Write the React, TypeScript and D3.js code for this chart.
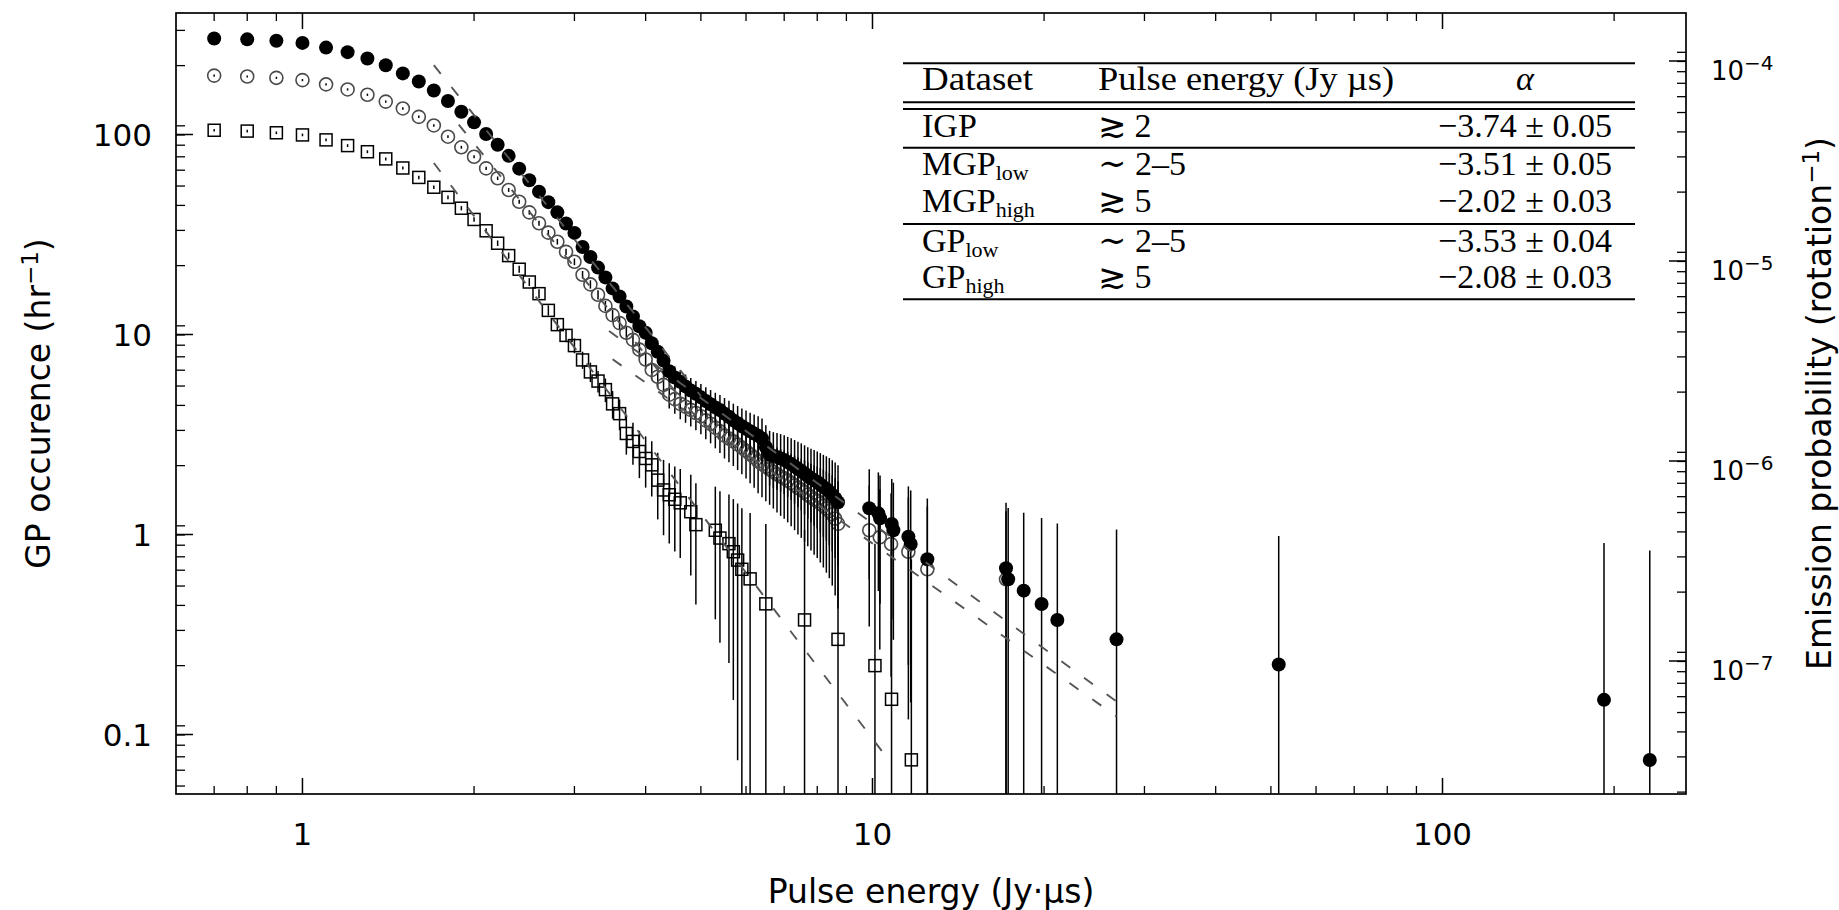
import React from 'react';
import * as d3 from 'd3';

// ---------------- data ----------------
// GP (all giant pulses) - filled circles
const gpEnergy = [
  0.7, 0.8, 0.9, 1.0, 1.1, 1.2, 1.3, 1.4, 1.5, 1.6,
  1.7, 1.8, 1.9, 2.0, 2.1, 2.2, 2.3, 2.4, 2.5, 2.6,
  2.7, 2.8, 2.9, 3.0, 3.1, 3.2, 3.3, 3.4, 3.5, 3.6,
  3.7, 3.8, 3.9, 4.0, 4.1, 4.2, 4.3, 4.4, 4.5, 4.6,
  4.7, 4.8, 4.9, 5.0, 5.1, 5.2, 5.3, 5.4, 5.5, 5.6,
  5.7, 5.8, 5.9, 6.0, 6.1, 6.2, 6.3, 6.4, 6.5, 6.6,
  6.7, 6.8, 6.9, 7.0, 7.1, 7.2, 7.3, 7.4, 7.5, 7.6,
  7.7, 7.8, 7.9, 8.0, 8.1, 8.2, 8.3, 8.4, 8.5, 8.6,
  8.7,
  9.87, 10.24, 10.31, 10.81, 10.88, 11.56, 11.67, 12.48,
  17.15, 17.3, 18.42, 19.8, 21.1, 26.8, 51.6, 192, 231,
];
const gpRate = [
  302, 299, 294, 287, 272, 258, 240, 222, 202, 184,
  166, 147, 130, 115, 100.5, 88.8, 78.2, 67.5, 59, 51.8,
  45.9, 40.8, 35.9, 32.2, 27.4, 24.4, 21.6, 19.3, 17.0, 15.5,
  13.8, 12.3, 11.0, 10.2, 9.04, 8.2, 7.4, 6.55, 6.1, 5.8,
  5.5, 5.25, 5.05, 4.85, 4.65, 4.48, 4.32, 4.19, 4.02, 3.88,
  3.72, 3.6, 3.48, 3.38, 3.28, 3.2, 3.12, 3.02, 2.74, 2.52,
  2.47, 2.44, 2.4, 2.36, 2.3, 2.25, 2.19, 2.13, 2.08, 2.02,
  1.96, 1.91, 1.87, 1.83, 1.78, 1.73, 1.69, 1.64, 1.58, 1.52,
  1.45,
  1.352, 1.276, 1.205, 1.13, 1.05, 0.975, 0.896, 0.752,
  0.678, 0.597, 0.524, 0.449, 0.374, 0.299, 0.224, 0.149, 0.0746,
];

// MGP - open circles
const mgpEnergy = [
  0.7, 0.8, 0.9, 1.0, 1.1, 1.2, 1.3, 1.4, 1.5, 1.6,
  1.7, 1.8, 1.9, 2.0, 2.1, 2.2, 2.3, 2.4, 2.5, 2.6,
  2.7, 2.8, 2.9, 3.0, 3.1, 3.2, 3.3, 3.4, 3.5, 3.6,
  3.7, 3.8, 3.9, 4.0, 4.1, 4.2, 4.3, 4.4, 4.5, 4.6,
  4.7, 4.8, 4.9, 5.0, 5.1, 5.2, 5.3, 5.4, 5.5, 5.6,
  5.7, 5.8, 5.9, 6.0, 6.1, 6.2, 6.3, 6.4, 6.5, 6.6,
  6.7, 6.8, 6.9, 7.0, 7.1, 7.2, 7.3, 7.4, 7.5, 7.6,
  7.7, 7.8, 7.9, 8.0, 8.1, 8.2, 8.3, 8.4, 8.5, 8.6,
  8.7,
  9.87, 10.3, 10.78, 11.56, 12.48, 17.15,
];
const mgpRate = [
  197, 195, 192, 187, 178, 168, 158, 146, 135, 122.5,
  111, 97.5, 86.3, 77.4, 67.7, 60.4, 52.8, 46.1, 40.8, 36.0,
  32.3, 29.1, 25.9, 23.1, 19.9, 17.8, 15.8, 13.9, 12.5, 11.4,
  10.2, 9.4, 8.4, 7.5, 6.65, 6.15, 5.6, 5.0, 4.75, 4.5,
  4.35, 4.2, 4.05, 3.9, 3.72, 3.58, 3.42, 3.28, 3.12, 3.02,
  2.92, 2.82, 2.72, 2.62, 2.52, 2.43, 2.32, 2.25, 2.18, 2.12,
  2.06, 2.0, 1.95, 1.91, 1.86, 1.81, 1.76, 1.71, 1.67, 1.63,
  1.58, 1.54, 1.5, 1.47, 1.43, 1.39, 1.35, 1.31, 1.26, 1.2,
  1.13,
  1.05, 0.968, 0.896, 0.82, 0.67, 0.597,
];

// IGP - open squares
const igpEnergy = [
  0.7, 0.8, 0.9, 1.0, 1.1, 1.2, 1.3, 1.4, 1.5, 1.6,
  1.7, 1.8, 1.9, 2.0, 2.1, 2.2, 2.3, 2.4, 2.5, 2.6,
  2.7, 2.8, 2.9, 3.0, 3.1, 3.2, 3.3, 3.4, 3.5, 3.6,
  3.7, 3.8, 3.9, 4.0, 4.1, 4.2, 4.3, 4.4, 4.5, 4.6,
  4.8, 4.9, 5.3, 5.4, 5.6, 5.7, 5.8, 5.9, 6.1, 6.5, 7.6, 8.7, 10.1, 10.8, 11.7,
];
const igpRate = [
  105, 104, 102, 99.5, 94, 88, 82, 75.5, 68, 61,
  54.5, 48.5, 42.8, 37.6, 33, 28.6, 24.8, 21.2, 18.3, 16.0,
  13.2, 11.2, 9.9, 8.8, 7.46, 6.5, 5.85, 5.3, 4.5, 4.02,
  3.2, 2.92, 2.6, 2.4, 2.23, 1.87, 1.67, 1.58, 1.5, 1.44,
  1.3, 1.12, 1.05, 0.96, 0.9, 0.82, 0.745, 0.67, 0.6, 0.45, 0.374, 0.299, 0.221, 0.15, 0.0747,
];

// error bar half widths (hr^-1) for GP, MGP, IGP
const seriesError = [0.75, 0.7, 0.67];

// power-law fits (dashed lines)
const fitAlpha = [-3.53, -3.51, -3.74, -2.08, -2.02];
const fitStart = [1.7, 1.88, 1.7, 3.45, 3.5];
const fitEnd = [5.0, 5.0, 10.8, 26.8, 26.8];
const fitStartRate = [222, 112, 72, 10.4, 7.52];

// axes
const xDomain = [0.6, 267.4];
const yDomain = [0.05041, 405];
const rateToProbability = 4.29e-7;
const xMajorTicks = [1, 10, 100];
const xTickLabels = ['1', '10', '100'];
const xMinorTicks = [0.7, 0.8, 0.9, 2, 3, 4, 5, 6, 7, 8, 9, 20, 30, 40, 50, 60, 70, 80, 90, 200];
const yLeftTicks = [100, 10, 1, 0.1];
const yLeftLabels = ['100', '10', '1', '0.1'];
const yRightTicks = [1e-4, 1e-5, 1e-6, 1e-7];
const yRightExponents = ['−4', '−5', '−6', '−7'];
const minorMantissas = [1, 2, 3, 4, 5, 6, 7, 8, 9];
const minorTickShift = 1.105;

// table
const tableDataset = ['IGP', 'MGP', 'MGP', 'GP', 'GP'];
const tableSub = ['', 'low', 'high', 'low', 'high'];
const tableEnergy = ['≳ 2', '∼ 2–5', '≳ 5', '∼ 2–5', '≳ 5'];
const tableAlpha = ['−3.74 ± 0.05', '−3.51 ± 0.05', '−2.02 ± 0.03', '−3.53 ± 0.04', '−2.08 ± 0.03'];

export default function App() {
  const W = 1839, H = 910;
  const L = 176, R = 1686, T = 13, B = 794;
  const x = d3.scaleLog().domain(xDomain).range([L, R]);
  const y = d3.scaleLog().domain(yDomain).range([B, T]);
  const yR = d3.scaleLog()
    .domain([yDomain[0] * rateToProbability, yDomain[1] * rateToProbability])
    .range([B, T]);

  const inY = (v: number) => v >= yDomain[0] && v <= yDomain[1];
  const inYR = (v: number) => v >= yDomain[0] * rateToProbability && v <= yDomain[1] * rateToProbability;

  const leftMinor: number[] = [];
  [-2, -1, 0, 1, 2].forEach((n) => minorMantissas.forEach((k) => {
    const v = k * Math.pow(10, n) * minorTickShift;
    if (inY(v)) leftMinor.push(y(v));
  }));
  const rightMinor: number[] = [];
  [-8, -7, -6, -5, -4].forEach((n) => minorMantissas.forEach((k) => {
    const v = k * Math.pow(10, n) * minorTickShift;
    if (inYR(v)) rightMinor.push(yR(v));
  }));

  const errBars = (xs: number[], ys: number[], err: number, key: string) =>
    xs.map((e, i) => {
      const v = ys[i];
      const lo = v - err;
      const y1 = y(v + err);
      const y2 = lo > yDomain[0] ? y(lo) : B + 20;
      return (
        <line key={key + i} x1={x(e)} x2={x(e)} y1={y1} y2={y2}
          stroke="#000" strokeWidth={1.5} strokeLinecap="square" />
      );
    });

  const fitLines = fitAlpha.map((a, i) => {
    const x0 = fitStart[i], x1 = fitEnd[i];
    const y0 = fitStartRate[i];
    const y1 = y0 * Math.pow(x1 / x0, a);
    return (
      <line key={'fit' + i} x1={x(x0)} y1={y(y0)} x2={x(x1)} y2={y(y1)}
        stroke="#555" strokeWidth={1.9} strokeDasharray="11 17" />
    );
  });

  const sq = 12;
  const tickFont = 31;
  const serif = "'Liberation Serif', 'DejaVu Serif', serif";
  const tCol1 = 922, tCol2 = 1098, tCol3 = 1525;
  const tLeft = 903, tRight = 1635;
  const rowBase = [136.7, 175, 211.7, 251.7, 288.3];
  const rules = [63.3, 102.3, 109, 147.7, 224, 299.3];
  const mainFont = 34;
  const subFont = 22;

  return (
    <svg width={W} height={H} style={{ position: 'fixed', left: 0, top: 0, background: '#fff' }}
      fontFamily="'DejaVu Sans', sans-serif">
      <rect x={0} y={0} width={W} height={H} fill="#fff" />
      <defs>
        <clipPath id="plotArea">
          <rect x={L} y={T} width={R - L} height={B - T} />
        </clipPath>
      </defs>

      <g clipPath="url(#plotArea)">
        {/* IGP squares */}
        {errBars(igpEnergy, igpRate, seriesError[2], 'ie')}
        {igpEnergy.map((e, i) => (
          <rect key={'is' + i} x={x(e) - sq / 2} y={y(igpRate[i]) - sq / 2} width={sq} height={sq}
            fill="none" stroke="#000" strokeWidth={1.5} />
        ))}
        {/* MGP open circles */}
        {errBars(mgpEnergy, mgpRate, seriesError[1], 'me')}
        {mgpEnergy.map((e, i) => (
          <circle key={'mc' + i} cx={x(e)} cy={y(mgpRate[i])} r={6.5}
            fill="none" stroke="#4a4a4a" strokeWidth={1.6} />
        ))}
        {/* GP filled circles */}
        {errBars(gpEnergy, gpRate, seriesError[0], 'ge')}
        {gpEnergy.map((e, i) => (
          <circle key={'gc' + i} cx={x(e)} cy={y(gpRate[i])} r={7} fill="#000" />
        ))}
        {fitLines}
      </g>

      {/* frame */}
      <rect x={L} y={T} width={R - L} height={B - T} fill="none" stroke="#000" strokeWidth={1.7} />

      {/* x ticks */}
      {xMajorTicks.map((v, i) => (
        <g key={'xM' + i}>
          <line x1={x(v)} x2={x(v)} y1={B} y2={B - 16} stroke="#000" strokeWidth={1.5} />
          <line x1={x(v)} x2={x(v)} y1={T} y2={T + 16} stroke="#000" strokeWidth={1.5} />
          <text x={x(v)} y={845} textAnchor="middle" fontSize={tickFont}>{xTickLabels[i]}</text>
        </g>
      ))}
      {xMinorTicks.map((v, i) => (
        <g key={'xm' + i}>
          <line x1={x(v)} x2={x(v)} y1={B} y2={B - 8} stroke="#000" strokeWidth={1.3} />
          <line x1={x(v)} x2={x(v)} y1={T} y2={T + 8} stroke="#000" strokeWidth={1.3} />
        </g>
      ))}

      {/* left y ticks */}
      {yLeftTicks.map((v, i) => (
        <g key={'yl' + i}>
          <line x1={L} x2={L + 17} y1={y(v)} y2={y(v)} stroke="#000" strokeWidth={1.5} />
          <text x={152} y={y(v) + 11.3} textAnchor="end" fontSize={tickFont}>{yLeftLabels[i]}</text>
        </g>
      ))}
      {leftMinor.map((p, i) => (
        <line key={'ylm' + i} x1={L} x2={L + 9} y1={p} y2={p} stroke="#000" strokeWidth={1.3} />
      ))}

      {/* right y ticks */}
      {yRightTicks.map((v, i) => (
        <g key={'yr' + i}>
          <line x1={R} x2={R - 17} y1={yR(v)} y2={yR(v)} stroke="#000" strokeWidth={1.5} />
          <text x={1711} y={yR(v) + 19} fontSize={26}>
            10<tspan dy={-10} fontSize={20}>{yRightExponents[i]}</tspan>
          </text>
        </g>
      ))}
      {rightMinor.map((p, i) => (
        <line key={'yrm' + i} x1={R} x2={R - 9} y1={p} y2={p} stroke="#000" strokeWidth={1.3} />
      ))}

      {/* axis titles */}
      <text x={(L + R) / 2} y={903} textAnchor="middle" fontSize={33}>Pulse energy (Jy·µs)</text>
      <text transform={`translate(49.5, ${(T + B) / 2}) rotate(-90)`} textAnchor="middle" fontSize={33}>
        GP occurence (hr<tspan dy={-12} fontSize={23}>−1</tspan><tspan dy={12}>)</tspan>
      </text>
      <text transform={`translate(1831, ${(T + B) / 2}) rotate(-90)`} textAnchor="middle" fontSize={33}>
        Emission probability (rotation<tspan dy={-12} fontSize={23}>−1</tspan><tspan dy={12}>)</tspan>
      </text>

      {/* table */}
      <g fontFamily={serif}>
        <rect x={tLeft} y={58} width={tRight - tLeft} height={246} fill="#fff" />
        {rules.map((r, i) => (
          <line key={'rule' + i} x1={tLeft} x2={tRight} y1={r} y2={r} stroke="#000" strokeWidth={2} />
        ))}
        <text x={tCol1} y={90} fontSize={mainFont} textLength={111} lengthAdjust="spacingAndGlyphs">Dataset</text>
        <text x={tCol2} y={90} fontSize={mainFont} textLength={296} lengthAdjust="spacingAndGlyphs">Pulse energy (Jy µs)</text>
        <text x={tCol3} y={90} textAnchor="middle" fontStyle="italic" fontSize={34}>α</text>
        {tableDataset.map((d, i) => (
          <g key={'row' + i}>
            <text x={tCol1} y={rowBase[i]} fontSize={mainFont}>
              {d}
              {tableSub[i] ? <tspan dy={5} fontSize={subFont}>{tableSub[i]}</tspan> : null}
            </text>
            <text x={tCol2} y={rowBase[i]} fontSize={mainFont}>{tableEnergy[i]}</text>
            <text x={tCol3} y={rowBase[i]} textAnchor="middle" fontSize={34}>{tableAlpha[i]}</text>
          </g>
        ))}
      </g>
    </svg>
  );
}
